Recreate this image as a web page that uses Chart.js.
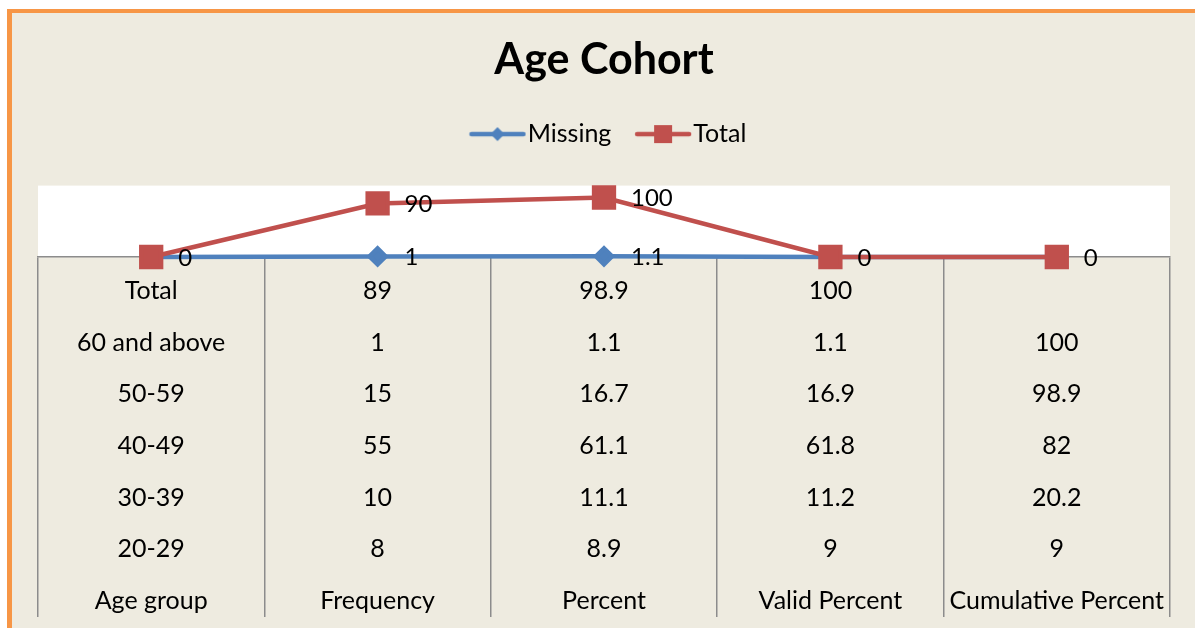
<!DOCTYPE html>
<html>
<head>
<meta charset="utf-8">
<script src="https://cdn.jsdelivr.net/npm/chart.js@4"></script>
<style>
  html, body { margin: 0; padding: 0; background: #fff; }
  #frame {
    position: absolute; left: 7px; top: 9px; width: 1200px; height: 630px;
    border-left: 5px solid #F79646; border-top: 4px solid #F79646;
    background: #EEEBE0;
  }
  #age-cohort { position: absolute; left: 0; top: 0; }
</style>
</head>
<body>
<div id="frame"></div>
<canvas id="age-cohort" width="1195" height="628"></canvas>
<script>
/* table columns shown under the axis */
var columns = ["Age group", "Frequency", "Percent", "Valid Percent", "Cumulative Percent"];
var ageGroups = ["Total", "60 and above", "50-59", "40-49", "30-39", "20-29"];
var frequency = [89, 1, 15, 55, 10, 8];
var percent = [98.9, 1.1, 16.7, 61.1, 11.1, 8.9];
var validPercent = [100, 1.1, 16.9, 61.8, 11.2, 9];
var cumulativePercent = ["", 100, 98.9, 82, 20.2, 9];

/* line series */
var missing = [0, 1, 1.1, 0, 0];
var total = [0, 90, 100, 0, 0];

var blue = "#4F81BD";
var red = "#C0504D";

var tableColumns = [ageGroups, frequency, percent, validPercent, cumulativePercent];
var labels = columns.map(function (c, i) {
    return tableColumns[i].map(String).concat([c]);
});

/* legend icons: line with marker, like excel (blank space on the left keeps the legend centred) */
function legendIcon(color, shape) {
    var c = document.createElement("canvas");
    c.width = 76; c.height = 20;
    var ctx = c.getContext("2d");
    ctx.strokeStyle = color;
    ctx.lineWidth = 4.5;
    ctx.lineCap = "round";
    ctx.beginPath(); ctx.moveTo(21, 10); ctx.lineTo(73, 10); ctx.stroke();
    ctx.fillStyle = color;
    ctx.beginPath();
    if (shape == "diamond") {
        ctx.moveTo(47, 3); ctx.lineTo(54, 10); ctx.lineTo(47, 17); ctx.lineTo(40, 10);
    } else {
        ctx.rect(38, 1, 18, 18);
    }
    ctx.fill();
    return c;
}
var icons = [legendIcon(blue, "diamond"), legendIcon(red, "square")];

var whiteArea = {
    id: "whiteArea",
    beforeDraw: function (chart) {
        var a = chart.chartArea;
        chart.ctx.save();
        chart.ctx.fillStyle = "#FFFFFF";
        chart.ctx.fillRect(a.left, a.top, a.right - a.left, a.bottom - a.top);
        chart.ctx.restore();
    }
};

var valueLabels = {
    id: "valueLabels",
    afterDatasetsDraw: function (chart) {
        var ctx = chart.ctx;
        ctx.save();
        ctx.font = "24px Lato";
        ctx.fillStyle = "#000";
        ctx.textAlign = "left";
        ctx.textBaseline = "middle";
        chart.data.datasets.forEach(function (ds, d) {
            chart.getDatasetMeta(d).data.forEach(function (pt, i) {
                if (d == 0 && ds.data[i] === total[i]) return;
                ctx.fillText(String(ds.data[i]), pt.x + 27, pt.y + 1);
            });
        });
        ctx.restore();
    }
};

var canvasElement = document.getElementById("age-cohort");

var config =
{
    type : "line",
    data :
    {
        labels: labels,
        datasets: [
            {
                label : "Missing",
                data : missing,
                order : 1,
                clip : false,
                borderColor : blue,
                backgroundColor : blue,
                borderWidth : 4.5,
                pointStyle : "rectRot",
                pointRadius : 8,
                pointHoverRadius : 8,
            },
            {
                label : "Total",
                data : total,
                order : 0,
                clip : false,
                borderColor : red,
                backgroundColor : red,
                borderWidth : 4.5,
                pointStyle : "rect",
                pointRadius : 14,
                pointHoverRadius : 14,
            },
        ],
    },
    options :
    {
        responsive : false,
        animation : false,
        layout : { padding : { left : 38, right : 25, top : 0, bottom : 1 } },
        plugins :
        {
            tooltip : { enabled : false },
            title :
            {
                display : true,
                text : "Age Cohort",
                color : "#000",
                font : { family : "Lato", size : 43, weight : "bold" },
                padding : { top : 34, bottom : 20 },
            },
            legend :
            {
                display : true,
                labels :
                {
                    color : "#000",
                    font : { family : "Lato", size : 25 },
                    usePointStyle : true,
                    pointStyleWidth : 53.5,
                    padding : 16,
                    sort : function (a, b) { return a.datasetIndex - b.datasetIndex; },
                    generateLabels : function (chart) {
                        var items = Chart.defaults.plugins.legend.labels.generateLabels(chart);
                        items.forEach(function (it) { it.pointStyle = icons[it.datasetIndex]; });
                        return items;
                    },
                },
            },
        },
        scales :
        {
            x :
            {
                offset : true,
                afterFit : function (scale) { scale.height = 370; },
                grid :
                {
                    display : true,
                    offset : true,
                    drawOnChartArea : false,
                    drawTicks : true,
                    tickLength : 360,
                    color : "#8C8C8C",
                    lineWidth : 1.5,
                },
                border : { display : true, color : "#8C8C8C", width : 1.5 },
                ticks :
                {
                    autoSkip : false,
                    maxRotation : 0,
                    color : "#000",
                    padding : -352,
                    font : { family : "Lato", size : 25, lineHeight : "51.67px" },
                },
            },
            xTop :
            {
                type : "category",
                position : "top",
                display : true,
                afterFit : function (scale) { scale.height = 29; },
                grid : { display : false, drawTicks : false },
                border : { display : false },
                ticks : { display : false },
            },
            y :
            {
                display : false,
                min : 0,
                max : 120,
            },
        },
    },
    plugins : [whiteArea, valueLabels],
};

var chart = new Chart(canvasElement, config);
</script>
</body>
</html>
